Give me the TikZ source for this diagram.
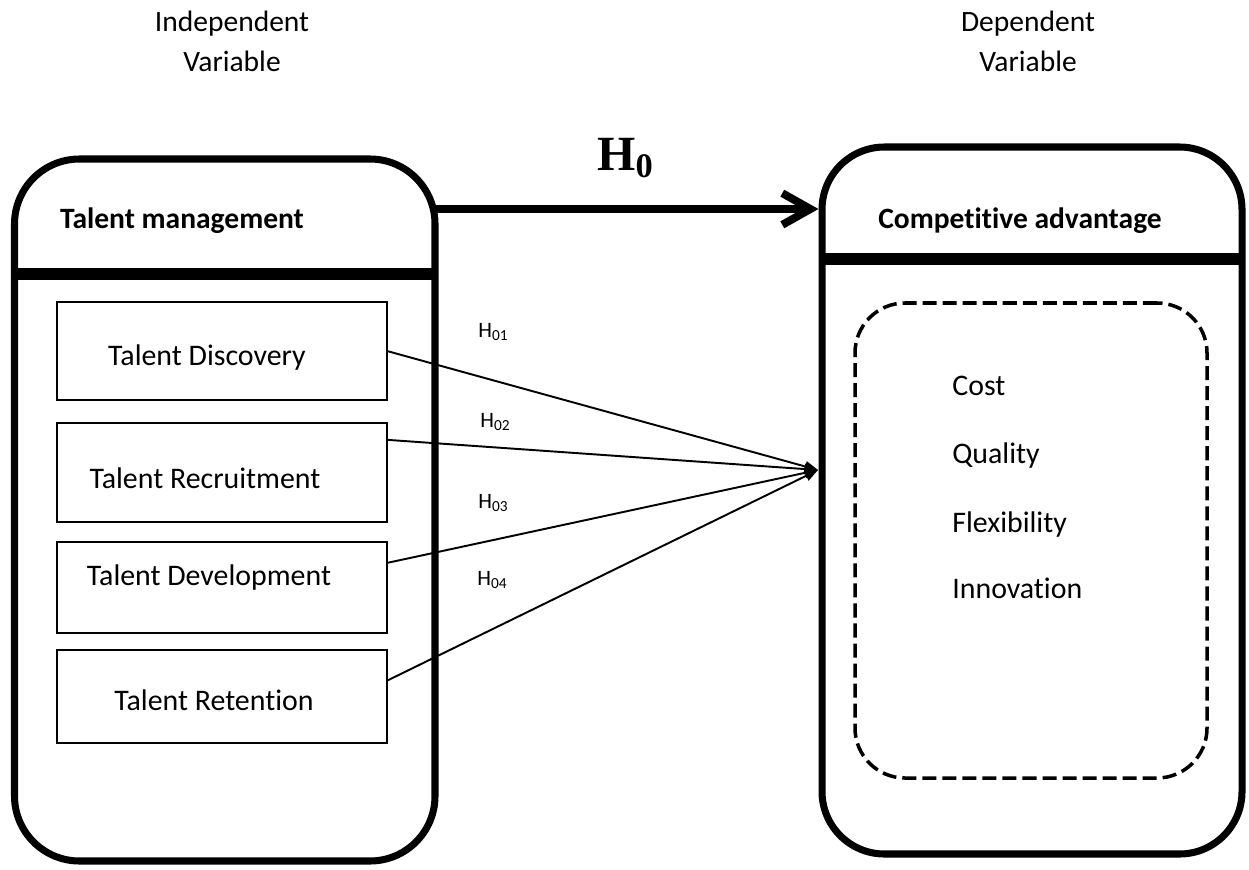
\documentclass[tikz,border=0pt]{standalone}
\usepackage{fontspec}
\setmainfont[Ligatures=NoCommon, RawFeature={-liga;-clig;-calt}]{Carlito}
\newfontfamily\serifbold{Liberation Serif}
\usepackage{tikz}
\usetikzlibrary{arrows.meta, positioning, calc}

\begin{document}
\begin{tikzpicture}[
  outer/.style={draw, line width=4pt, rounded corners=1.3cm, minimum width=8.41cm, minimum height=14.04cm, outer sep=0pt, inner sep=0pt},
  divider/.style={line width=6.5pt},
  tbox/.style={draw, line width=1.1pt, minimum width=6.6cm, outer sep=0pt, inner sep=0pt},
  txt/.style={font=\fontsize{17}{20}\selectfont, inner sep=0pt},
  ttl/.style={font=\fontsize{16.8}{20}\selectfont\bfseries, inner sep=0pt},
  head/.style={font=\fontsize{16.8}{22.7}\selectfont, align=center, inner sep=0pt},
  hyp/.style={font=\fontsize{12.5}{15}\selectfont, inner sep=0pt, anchor=base west},
  arr/.style={-{Triangle[length=7.5pt, width=6pt]}, line width=1.1pt},
  bigarr/.style={-{Straight Barb[length=16pt, width=18pt]}, line width=4.5pt, shorten >=2pt},
]
\useasboundingbox (0,0) rectangle (24.98,-17.38);

% variable headers
\node[head] (indep) at (4.64,-0.835) {Independent\\Variable};
\node[head] (dep) at (20.56,-0.835) {Dependent\\Variable};

% outer frames
\node[outer] (tm) at (4.495,-10.20) {};
\node[outer, rounded corners=1.25cm, minimum width=8.40cm, minimum height=14.14cm] (ca) at (20.64,-10.01) {};
\draw[divider] (tm.west |- 0,-5.48) -- (tm.east |- 0,-5.48);
\draw[divider] (ca.west |- 0,-5.18) -- (ca.east |- 0,-5.18);
\node[ttl, anchor=base] (tmtitle) at (3.64,-4.56) {Talent management};
\node[ttl, anchor=base] (catitle) at (20.40,-4.56) {Competitive advantage};

% dimensions of talent management
\node[tbox, minimum height=1.96cm] (disc) at (4.44,-7.02) {};
\node[tbox, minimum height=1.98cm] (recr) at (4.44,-9.45) {};
\node[tbox, minimum height=1.82cm] (devt) at (4.44,-11.75) {};
\node[tbox, minimum height=1.86cm] (rete) at (4.44,-13.93) {};
\node[txt, anchor=base] (disctxt) at (4.14,-7.30) {Talent Discovery};
\node[txt, anchor=base] (recrtxt) at (4.10,-9.76) {Talent Recruitment};
\node[txt, anchor=base] (devttxt) at (4.18,-11.70) {Talent Development};
\node[txt, anchor=base] (retetxt) at (4.28,-14.20) {Talent Retention};

% dimensions of competitive advantage
\node[draw, line width=2pt, dash pattern=on 8pt off 3.4pt, rounded corners=1cm, minimum width=7.04cm, minimum height=9.5cm] (attrs) at (20.62,-10.81) {};
\node[txt, anchor=base west] (cost) at (19.04,-7.90) {Cost};
\node[txt, anchor=base west] (qual) at (19.04,-9.26) {Quality};
\node[txt, anchor=base west] (flex) at (19.04,-10.64) {Flexibility};
\node[txt, anchor=base west] (inno) at (19.04,-11.96) {Innovation};

% main hypothesis
\draw[bigarr] (tm.east |- 0,-4.18) -- (ca.west |- 0,-4.18);
\node[anchor=base west, inner sep=0pt, font=\serifbold\bfseries\fontsize{28}{30}\selectfont] (hzero) at (11.94,-3.40) {H\textsubscript{0}};

% sub hypotheses
\coordinate (hit) at (16.36,-9.40);
\draw[arr] (disc.east) -- (hit);
\draw[arr] ($(recr.north east)!0.17!(recr.south east)$) -- (hit);
\draw[arr] ($(devt.north east)!0.23!(devt.south east)$) -- (hit);
\draw[arr] ($(rete.north east)!0.33!(rete.south east)$) -- (hit);
\node[hyp] (h1) at (9.56,-6.74) {H\textsubscript{01}};
\node[hyp] (h2) at (9.60,-8.54) {H\textsubscript{02}};
\node[hyp] (h3) at (9.56,-10.16) {H\textsubscript{03}};
\node[hyp] (h4) at (9.54,-11.70) {H\textsubscript{04}};
\end{tikzpicture}
\end{document}
